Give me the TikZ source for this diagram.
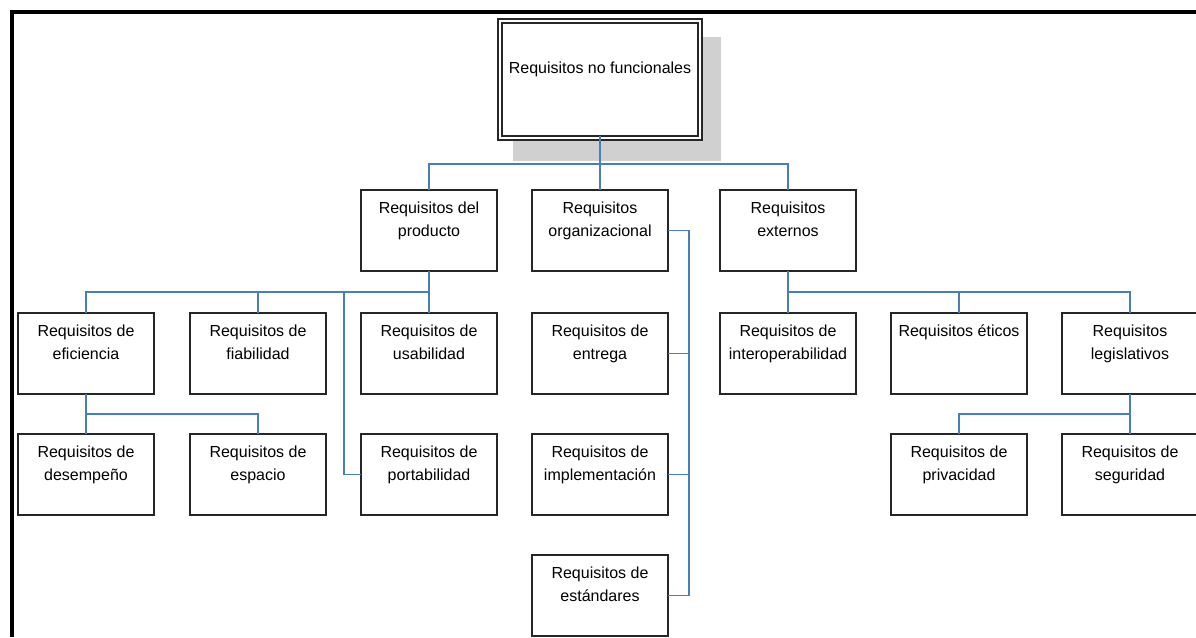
\documentclass[tikz,border=0pt]{standalone}
\usepackage{fontspec}
\setmainfont{Liberation Sans}
\usetikzlibrary{calc}
\definecolor{linkblue}{HTML}{4A7EBB}
\definecolor{shadowgray}{HTML}{D0D0D0}
\begin{document}
\begin{tikzpicture}[x=1pt,y=-1pt,
  box/.style={draw=black!85, line width=1.8pt, fill=white,
    minimum width=136pt, inner sep=0pt, outer sep=0pt, align=center,
    text height=46pt, text depth=35pt, anchor=north west,
    font=\fontsize{16}{23}\selectfont},
  onebox/.style={box, text height=23pt, text depth=58pt},
  rootbox/.style={draw=black!85, line width=1.8pt, double=white,
    double distance=2.2pt, fill=white, minimum width=200pt,
    inner sep=0pt, outer sep=0pt, align=center,
    text height=52pt, text depth=65pt,
    anchor=north west, font=\fontsize{16}{23}\selectfont},
  conn/.style={draw=linkblue, line width=1.9pt},
  frame/.style={line width=4pt, line join=miter}]
\useasboundingbox (0,0) rectangle (1196,637);
\begin{scope}
\clip (0,0) rectangle (1196,637);

% outer frame (top and left edges)
\draw[frame] (12,637) -- (12,12) -- (1196,12);

% shadow behind the root box
\fill[shadowgray] (513,37) rectangle (721,161);

% root
\node[rootbox] (root) at (500,21) {Requisitos no funcionales};

% second level
\node[box] (prod) at (361,190) {Requisitos del\\producto};
\node[box] (org)  at (532,190) {Requisitos\\organizacional};
\node[box] (ext)  at (720,190) {Requisitos\\externos};

% third level
\node[box] (efi) at (18,313)   {Requisitos de\\eficiencia};
\node[box] (fia) at (190,313)  {Requisitos de\\fiabilidad};
\node[box] (usa) at (361,313)  {Requisitos de\\usabilidad};
\node[box] (ent) at (532,313)  {Requisitos de\\entrega};
\node[box] (int) at (720,313)  {Requisitos de\\interoperabilidad};
\node[onebox] (eti) at (891,313)  {Requisitos éticos};
\node[box] (leg) at (1062,313) {Requisitos\\legislativos};

% fourth level
\node[box] (des) at (18,434)   {Requisitos de\\desempeño};
\node[box] (esp) at (190,434)  {Requisitos de\\espacio};
\node[box] (por) at (361,434)  {Requisitos de\\portabilidad};
\node[box] (imp) at (532,434)  {Requisitos de\\implementación};
\node[box] (pri) at (891,434)  {Requisitos de\\privacidad};
\node[box] (seg) at (1062,434) {Requisitos de\\seguridad};

% fifth level
\node[box] (est) at (532,555)  {Requisitos de\\estándares};

% root to second level
\coordinate (tj) at (600,164);
\draw[conn] ([yshift=2.5pt]root.south) -- (tj);
\draw[conn] (prod.north) |- (tj) -| (ext.north);
\draw[conn] (tj) -- (org.north);

% product branch
\coordinate (pj) at (429,292);
\coordinate (pb) at (344,292);
\draw[conn] (prod.south) -- (pj);
\draw[conn] (efi.north) |- (pj) -- (usa.north);
\draw[conn] (pj -| fia.north) -- (fia.north);
\draw[conn] (pb) |- (por.west);

% efficiency branch
\draw[conn] (efi.south) -- (des.north);
\draw[conn] ($(efi.south)!0.5!(des.north)$) -| (esp.north);

% organisational branch
\draw[conn] (org.east) -- ++(21,0) |- (est.east);
\draw[conn] (ent.east) -- ++(21,0);
\draw[conn] (imp.east) -- ++(21,0);

% external branch
\coordinate (xj) at (788,292);
\draw[conn] (ext.south) -- (xj) -| (leg.north);
\draw[conn] (xj) -- (int.north);
\draw[conn] (xj -| eti.north) -- (eti.north);

% legislative branch
\draw[conn] (leg.south) -- (seg.north);
\draw[conn] ($(leg.south)!0.5!(seg.north)$) -| (pri.north);
\end{scope}
\end{tikzpicture}
\end{document}
